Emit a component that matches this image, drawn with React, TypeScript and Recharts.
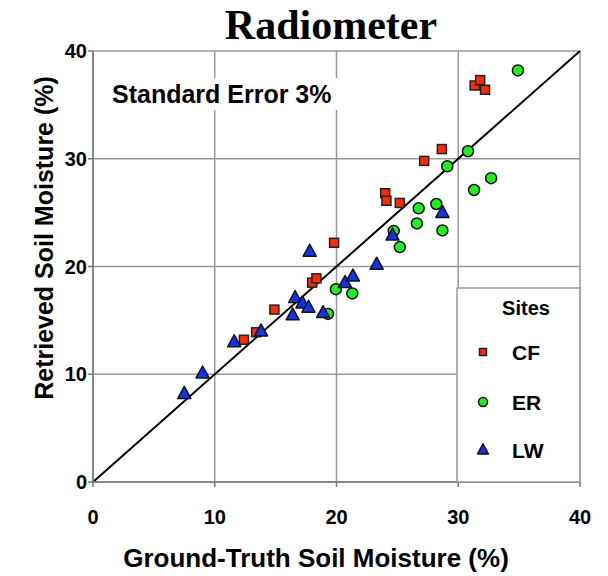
import React from "react"
import {
    CartesianGrid,
    ReferenceLine,
    Scatter,
    ScatterChart,
    XAxis,
    YAxis,
} from "recharts"

// site CF (red squares)
const cfX = [12.4, 13.4, 14.9, 18.0, 18.35, 19.8, 24.0, 24.1, 25.2, 27.2, 28.65, 31.35, 31.8, 32.2]
const cfY = [13.2, 13.9, 16.0, 18.5, 18.9, 22.2, 26.8, 26.1, 25.9, 29.8, 30.9, 36.8, 37.3, 36.4]

// site ER (green circles)
const erX = [19.3, 19.95, 21.3, 24.7, 25.2, 26.6, 26.75, 28.2, 28.7, 29.1, 30.8, 31.3, 32.7, 34.9]
const erY = [15.6, 17.9, 17.5, 23.3, 21.8, 24.0, 25.4, 25.8, 23.35, 29.3, 30.7, 27.1, 28.2, 38.2]

// site LW (blue triangles)
const lwX = [7.5, 9.0, 11.6, 13.8, 16.4, 16.6, 17.2, 17.7, 17.8, 18.9, 20.7, 21.35, 23.3, 24.6, 28.7]
const lwY = [8.2, 10.1, 13.0, 14.0, 15.5, 17.1, 16.6, 16.2, 21.4, 15.7, 18.5, 19.1, 20.2, 22.9, 25.0]

const ticks = [0, 10, 20, 30, 40]

const toPoints = (xs: number[], ys: number[]) => xs.map((x, i) => ({ x, y: ys[i] }))

const COLORS = { CF: "#ff2a00", ER: "#22ee22", LW: "#1133ee" }
const FONT = "'Liberation Sans', Arial, sans-serif"

const Square = ({ cx, cy, s = 9 }: any) => (
    <rect x={cx - s / 2} y={cy - s / 2} width={s} height={s} fill={COLORS.CF} stroke="#222" strokeWidth={1.5} />
)
const Dot = ({ cx, cy, r = 5.5 }: any) => (
    <circle cx={cx} cy={cy} r={r} fill={COLORS.ER} stroke="#111" strokeWidth={1.5} />
)
const Tri = ({ cx, cy, w = 13 }: any) => {
    const h = w * 0.92
    return (
        <path
            d={`M${cx},${cy - h * 0.6} L${cx + w / 2},${cy + h * 0.4} L${cx - w / 2},${cy + h * 0.4} Z`}
            fill={COLORS.LW}
            stroke="#111"
            strokeWidth={1.5}
            strokeLinejoin="round"
        />
    )
}

const series = [
    { name: "CF", data: toPoints(cfX, cfY), shape: Square, small: { s: 7 } },
    { name: "ER", data: toPoints(erX, erY), shape: Dot, small: { r: 4.5 } },
    { name: "LW", data: toPoints(lwX, lwY), shape: Tri, small: { w: 11 } },
]

const legendY = [352, 402, 450]

const App = () => {
    const tickStyle = { fill: "#000", fontSize: 20, fontWeight: 700, fontFamily: FONT }
    return (
        <div style={{ position: "absolute", left: 0, top: 0, width: 608, height: 576, background: "#fff" }}>
            <ScatterChart width={608} height={576} margin={{ top: 51, right: 28, bottom: 0, left: 0 }}>
                <CartesianGrid stroke="#999" strokeWidth={1.5} />
                <XAxis
                    type="number"
                    dataKey="x"
                    domain={[0, 40]}
                    ticks={ticks}
                    height={94}
                    tickSize={5}
                    tickMargin={23}
                    stroke="#777"
                    strokeWidth={1.5}
                    tick={tickStyle}
                />
                <YAxis
                    type="number"
                    dataKey="y"
                    domain={[0, 40]}
                    ticks={ticks}
                    width={93}
                    tickSize={5}
                    tickMargin={1}
                    stroke="#777"
                    strokeWidth={1.5}
                    tick={tickStyle}
                />
                <ReferenceLine
                    segment={[{ x: 0, y: 0 }, { x: 40, y: 40 }]}
                    stroke="#000"
                    strokeWidth={2}
                />
                {series.map((s) => (
                    <Scatter
                        key={s.name}
                        name={s.name}
                        data={s.data}
                        shape={(p: any) => <s.shape cx={p.cx} cy={p.cy} />}
                        isAnimationActive={false}
                    />
                ))}
            </ScatterChart>
            <svg width={608} height={576} style={{ position: "absolute", left: 0, top: 0, pointerEvents: "none" }}>
                <text x={331} y={39} textAnchor="middle" fontFamily="'Liberation Serif', 'Times New Roman', serif" fontWeight={700} fontSize={42}>
                    Radiometer
                </text>
                <rect x={106} y={78} width={238} height={32} fill="#fff" />
                <text x={112} y={103} fontFamily={FONT} fontWeight={700} fontSize={25}>
                    Standard Error 3%
                </text>
                <text
                    x={53}
                    y={238}
                    textAnchor="middle"
                    transform="rotate(-90 53 238)"
                    fontFamily={FONT}
                    fontWeight={700}
                    fontSize={25}
                >
                    Retrieved Soil Moisture (%)
                </text>
                <text x={316} y={567} textAnchor="middle" fontFamily={FONT} fontWeight={700} fontSize={26}>
                    Ground-Truth Soil Moisture (%)
                </text>
                <rect x={457} y={288} width={123} height={194} fill="#fff" stroke="#999" strokeWidth={1.5} />
                <text x={526} y={315} textAnchor="middle" fontFamily={FONT} fontWeight={700} fontSize={20}>
                    Sites
                </text>
                {series.map((s, i) => (
                    <g key={s.name}>
                        <s.shape cx={483} cy={legendY[i]} {...s.small} />
                        <text x={512} y={legendY[i] + 8} fontFamily={FONT} fontWeight={700} fontSize={21}>
                            {s.name}
                        </text>
                    </g>
                ))}
            </svg>
        </div>
    )
}

export default App
